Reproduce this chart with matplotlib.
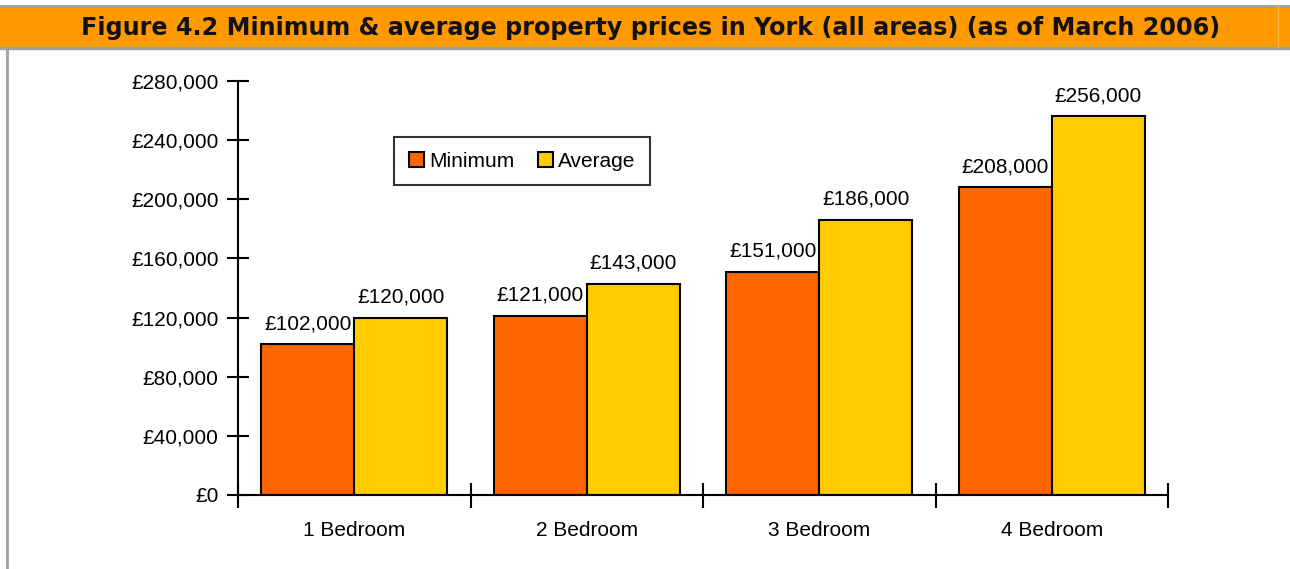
import matplotlib
matplotlib.use("Agg")
import matplotlib.pyplot as plt
from matplotlib.patches import Rectangle
from matplotlib.ticker import FuncFormatter

# data
categories = ["1 Bedroom", "2 Bedroom", "3 Bedroom", "4 Bedroom"]
minimum = [102000, 121000, 151000, 208000]
average = [120000, 143000, 186000, 256000]
series_names = ["Minimum", "Average"]
yticks = [0, 40000, 80000, 120000, 160000, 200000, 240000, 280000]
title = "Figure 4.2 Minimum & average property prices in York (all areas) (as of March 2006)"

plt.rcParams['font.family'] = ['Liberation Sans', 'DejaVu Sans']

W, H = 1290, 569
fs = 15
fig = plt.figure(figsize=(W / 100, H / 100), dpi=100)

# header band + page border
fig.patches.append(Rectangle((0, 1 - 48 / H), 1, 42 / H, transform=fig.transFigure,
                             facecolor="#ff9900", edgecolor="none", zorder=0))
fig.lines.append(plt.Line2D([0, 1], [1 - 5.5 / H] * 2, transform=fig.transFigure, color="#a0a0a0", lw=2))
fig.lines.append(plt.Line2D([0, 1], [1 - 48 / H] * 2, transform=fig.transFigure, color="#a0a0a0", lw=2.5))
fig.lines.append(plt.Line2D([7 / W] * 2, [0, 1 - 48 / H], transform=fig.transFigure, color="#a0a0a0", lw=2))
fig.lines.append(plt.Line2D([1278 / W] * 2, [1 - 47 / H, 1 - 6 / H], transform=fig.transFigure, color="#ffb347", lw=1))
fig.text(651 / W, 1 - 27.5 / H, title, ha="center", va="center", fontsize=17.2,
         fontweight="bold", family="DejaVu Sans", color="#111111")

ax = fig.add_axes([238 / W, 1 - 495 / H, (1168 - 238) / W, (495 - 81) / H])
x = list(range(len(categories)))
bw = 0.4
b1 = ax.bar([i - bw / 2 for i in x], minimum, bw, color="#ff6600", edgecolor="black", lw=1.5, label=series_names[0])
b2 = ax.bar([i + bw / 2 for i in x], average, bw, color="#ffcc00", edgecolor="black", lw=1.5, label=series_names[1])

money = lambda v: "£{:,.0f}".format(v)
for bars, vals in ((b1, minimum), (b2, average)):
    for r, v in zip(bars, vals):
        ax.annotate(money(v), (r.get_x() + r.get_width() / 2, v), xytext=(0, 8),
                    textcoords="offset points", ha="center", va="bottom", fontsize=fs)

ax.set_xlim(-0.5, 3.5)
ax.set_ylim(0, 280000)
ax.set_yticks(yticks)
ax.yaxis.set_major_formatter(FuncFormatter(lambda v, p: money(v)))
ax.set_xticks([-0.5, 0.5, 1.5, 2.5, 3.5])
ax.set_xticklabels([])
ax.set_xticks(x, minor=True)
ax.set_xticklabels(categories, minor=True)
ax.tick_params(axis="y", direction="inout", length=16, width=1.5, labelsize=fs, pad=6)
ax.tick_params(axis="x", which="major", direction="inout", length=18, width=1.5)
ax.tick_params(axis="x", which="minor", length=0, labelsize=fs, pad=19)
for s in ("top", "right"):
    ax.spines[s].set_visible(False)
for s in ("left", "bottom"):
    ax.spines[s].set_linewidth(1.5)

leg = ax.legend(loc="upper left", bbox_to_anchor=(394 / W, 1 - 137 / H), bbox_transform=fig.transFigure,
                ncol=2, fontsize=fs, frameon=True, fancybox=False, borderaxespad=0,
                handlelength=0.75, handleheight=0.75, handletextpad=0.25, columnspacing=1.1,
                borderpad=0.7)
leg.get_frame().set_edgecolor("black")
leg.get_frame().set_linewidth(1.5)

fig.savefig("out.png", dpi=100)
